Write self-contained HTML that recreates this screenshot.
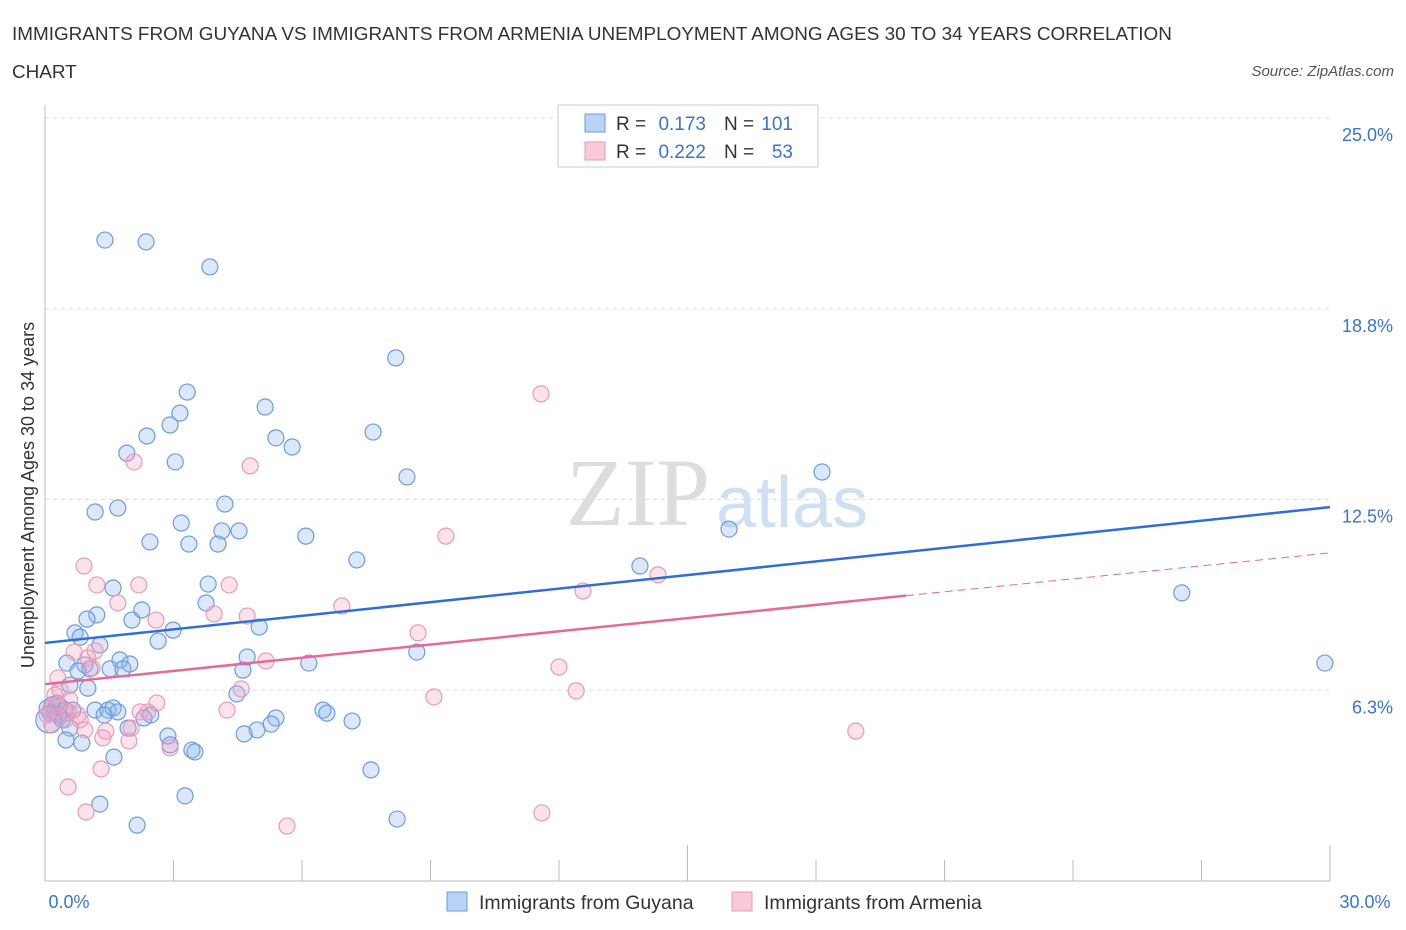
<!DOCTYPE html>
<html><head><meta charset="utf-8">
<style>
body{margin:0;background:#fff;font-family:"Liberation Sans",sans-serif;}
#wrap{position:relative;width:1406px;height:930px;overflow:hidden;}
</style></head>
<body>
<div id="wrap">
<svg id="svg" width="1406" height="930" xmlns="http://www.w3.org/2000/svg">
<text x="12" y="40" font-size="18.9" fill="#333">IMMIGRANTS FROM GUYANA VS IMMIGRANTS FROM ARMENIA UNEMPLOYMENT AMONG AGES 30 TO 34 YEARS CORRELATION</text>
<text x="12" y="78" font-size="18.9" fill="#333">CHART</text>
<text x="1394" y="76" font-size="15" fill="#555" font-style="italic" text-anchor="end">Source: ZipAtlas.com</text>
<text x="710" y="525" font-size="96" fill="#ddd" text-anchor="end" font-family="Liberation Serif">ZIP</text>
<text x="716" y="527" font-size="72" fill="#cfe0f3">atlas</text>
<g id="grid"></g>
<g id="marks"></g>
<text transform="translate(34,495) rotate(-90)" font-size="18" fill="#333" text-anchor="middle">Unemployment Among Ages 30 to 34 years</text>
<g>
<rect x="558" y="105" width="260" height="62" fill="#fff" stroke="#ccc"/>
<rect x="585" y="114" width="20" height="18" fill="#b9d3f5" stroke="#6a9de0"/>
<rect x="585" y="142" width="20" height="18" fill="#f9c9d8" stroke="#e99ab5"/>
<text x="616" y="130" font-size="19" fill="#333">R =</text>
<text x="706" y="130" font-size="19" fill="#3a74d0" text-anchor="end">0.173</text>
<text x="724" y="130" font-size="19" fill="#333">N =</text>
<text x="793" y="130" font-size="19" fill="#3a74d0" text-anchor="end">101</text>
<text x="616" y="158" font-size="19" fill="#333">R =</text>
<text x="706" y="158" font-size="19" fill="#3a74d0" text-anchor="end">0.222</text>
<text x="724" y="158" font-size="19" fill="#333">N =</text>
<text x="793" y="158" font-size="19" fill="#3a74d0" text-anchor="end">53</text>
</g>
<g>
<rect x="447" y="892" width="20" height="19" fill="#b9d3f5" stroke="#6a9de0"/>
<text x="479" y="909" font-size="19.5" fill="#333">Immigrants from Guyana</text>
<rect x="732" y="892" width="20" height="19" fill="#f9c9d8" stroke="#e99ab5"/>
<text x="764" y="909" font-size="19.5" fill="#333">Immigrants from Armenia</text>
</g>
</svg>
</div>
<script>
const yTicks=[25,18.75,12.5,6.25];
const yTickLabels=["25.0%","18.8%","12.5%","6.3%"];
const xTicks=[0,3,6,9,12,15,18,21,24,27,30];
const xLabels=["0.0%","30.0%"];
const blueTrend=[7.8,12.25];
const pinkTrend=[6.45,9.35,10.75];
const bluePx=[[105,240],[146,242],[210,267],[396,358],[187,392],[265,407],[180,413],[170,425],[147,436],[276,438],[292,447],[373,432],[127,453],[175,462],[407,477],[822,472],[225,504],[95,512],[118,508],[181,523],[222,531],[239,531],[150,542],[189,544],[218,544],[306,536],[729,529],[357,560],[640,566],[208,584],[113,588],[142,610],[206,603],[1182,593],[97,615],[87,619],[132,620],[173,630],[259,627],[75,633],[80,637],[100,645],[158,641],[417,652],[247,657],[309,663],[1325,663],[67,663],[120,660],[130,664],[85,665],[90,669],[110,669],[123,669],[78,671],[243,670],[88,688],[70,685],[237,694],[57,703],[60,706],[52,705],[47,708],[55,713],[65,710],[73,710],[95,710],[108,710],[113,708],[118,712],[104,715],[151,715],[144,718],[323,710],[327,713],[276,718],[352,721],[271,724],[257,730],[244,734],[62,720],[70,728],[128,728],[168,736],[66,740],[82,743],[170,745],[192,750],[195,752],[114,757],[371,770],[100,804],[185,796],[137,825],[397,819],[58,715],[50,713],[49,720]];
const pinkPx=[[541,394],[134,462],[250,466],[446,536],[84,566],[97,585],[139,585],[229,585],[118,603],[342,606],[214,614],[247,616],[156,620],[418,633],[583,591],[658,575],[74,652],[88,658],[95,651],[92,668],[266,661],[559,667],[241,689],[576,691],[434,697],[58,678],[60,690],[55,695],[70,700],[157,703],[148,712],[227,710],[78,715],[50,710],[65,720],[106,731],[131,728],[103,738],[129,741],[170,748],[101,769],[856,731],[68,787],[86,812],[287,826],[542,813],[47,715],[52,725],[140,712],[80,720],[58,705],[68,712],[85,730]];
// convert read pixel positions to data values (percent)
const guyanaX=bluePx.map(p=>+((p[0]-45)/1285*30).toFixed(2));
const guyanaY=bluePx.map(p=>+((881-p[1])/763*25).toFixed(2));
const armeniaX=pinkPx.map(p=>+((p[0]-45)/1285*30).toFixed(2));
const armeniaY=pinkPx.map(p=>+((881-p[1])/763*25).toFixed(2));

const X=v=>45+v/30*1285, Y=v=>881-v/25*763;
const NS="http://www.w3.org/2000/svg";
const grid=document.getElementById('grid'), marks=document.getElementById('marks');
function mk(tag,attrs,parent){const e=document.createElementNS(NS,tag);for(const k in attrs)e.setAttribute(k,attrs[k]);parent.appendChild(e);return e;}
yTicks.forEach((t,i)=>{
 const l=mk('line',{x1:45,x2:1330,y1:Y(t),y2:Y(t),stroke:'#ddd','stroke-dasharray':'4,4'},grid);
 
 
 const tx=mk('text',{x:1393,y:Y(t)+23,'font-size':18,fill:'#3a74d0','text-anchor':'end'},grid);
 tx.textContent=yTickLabels[i];
 
 
});
const ax=mk('line',{x1:45,x2:45,y1:105,y2:881,stroke:'#bbb'},grid);


const bx=mk('line',{x1:45,x2:1330,y1:881,y2:881,stroke:'#bbb'},grid);


xTicks.forEach((t,i)=>{
 const top=(t===15||t===0||t===30)?845:860;
 const l=mk('line',{x1:X(t),x2:X(t),y1:top,y2:881,stroke:'#bbb'},grid);
 
 
});
const xl0=mk('text',{x:69,y:908,'font-size':18,fill:'#3a74d0','text-anchor':'middle'},grid);xl0.textContent=xLabels[0];


const xl1=mk('text',{x:1365,y:908,'font-size':18,fill:'#3a74d0','text-anchor':'middle'},grid);xl1.textContent=xLabels[1];



guyanaX.forEach((x,i)=>{
 const c=mk('circle',{cx:X(x),cy:Y(guyanaY[i]),r:i===bluePx.length-1?13:8,fill:'rgba(140,180,240,0.3)',stroke:'#6a9de0','stroke-width':1.2},marks);
 
 
});
armeniaX.forEach((x,i)=>{
 const c=mk('circle',{cx:X(x),cy:Y(armeniaY[i]),r:8,fill:'rgba(245,160,190,0.3)',stroke:'#e99ab5','stroke-width':1.2},marks);
 
 
});
const bl=mk('line',{x1:X(0),y1:Y(blueTrend[0]),x2:X(30),y2:Y(blueTrend[1]),stroke:'#2f6fd6','stroke-width':2.5},marks);


const pl=mk('line',{x1:X(0),y1:Y(pinkTrend[0]),x2:X(20.1),y2:Y(pinkTrend[1]),stroke:'#e56a95','stroke-width':2.5},marks);


const pd=mk('line',{x1:X(20.1),y1:Y(pinkTrend[1]),x2:X(30),y2:Y(pinkTrend[2]),stroke:'#e56a95','stroke-width':1,'stroke-dasharray':'8,5'},marks);


</script>
</body></html>
